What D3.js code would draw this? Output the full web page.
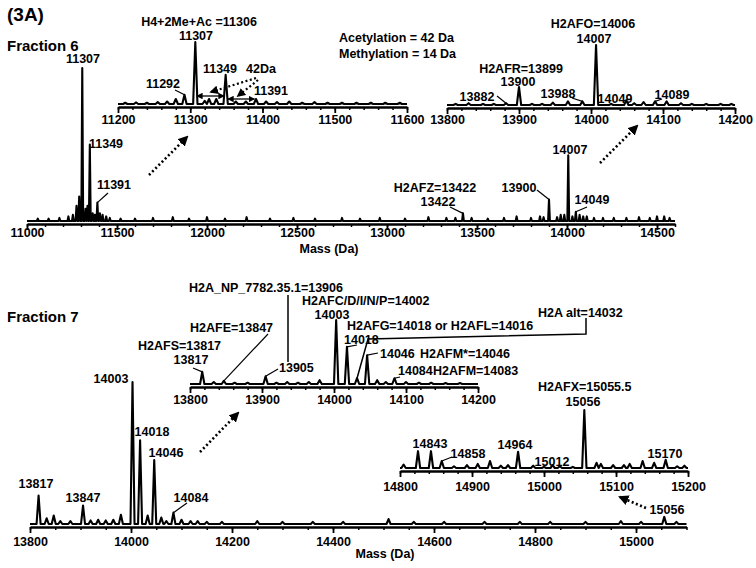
<!DOCTYPE html>
<html>
<head>
<meta charset="utf-8">
<script src="https://cdn.jsdelivr.net/npm/d3@7"></script>
<style>
  body { margin: 0; background: #fff; }
  svg text { font-family: "Liberation Sans", Arial, sans-serif; font-weight: bold; fill: #000; }
</style>
</head>
<body>
<svg id="fig" width="756" height="568"></svg>
<script>
// ---------- peak lists: [mass (Da), relative intensity %] ----------
const f6Main = [[11060,1.5],[11120,1.5],[11180,2],[11230,3],[11255,4],[11275,10],[11290,16],[11307,100],[11325,8],[11336,10],
  [11349,50],[11365,5],[11377,4],[11391,12],[11405,5],[11420,4],[11440,3],[11460,2],[11520,1.5],[11600,1.5],[11700,2],
  [11810,2.5],[11900,1.5],[12000,2.5],[12100,1.5],[12220,2.5],[12350,1.5],[12480,2],[12600,1.5],[12750,2],[12850,1.5],
  [12960,2],[13100,1.5],[13230,2.5],[13330,2],[13380,2],[13422,5],[13470,2],[13560,1.5],[13650,2],[13720,3],[13800,2],
  [13850,3],[13870,2.5],[13900,14],[13945,2.5],[13965,4],[13985,4],[14007,43],[14030,3],[14049,6],[14070,4],[14090,3],
  [14110,3],[14150,2],[14200,2],[14260,2],[14330,2],[14400,2.5],[14460,2],[14500,3],[14540,3],[14570,2]];
const f6InsetA = [[11210,2],[11225,2.5],[11240,2],[11255,3],[11268,4],[11280,8],[11292,15],[11307,100],[11320,5],[11326,8],
  [11336,8],[11349,47],[11363,4],[11377,4],[11391,8],[11405,4],[11420,3],[11437,4],[11455,2],[11472,3],[11490,2],[11510,2],
  [11530,2],[11550,2],[11570,2],[11590,2]];
const f6InsetB = [[13812,2],[13830,3],[13850,2],[13865,2],[13882,3],[13900,30],[13918,2],[13932,2],[13947,4],[13968,6],
  [13988,6],[14007,100],[14028,2],[14049,8],[14060,3],[14073,5],[14089,6],[14105,6],[14125,3],[14140,2],[14160,2],[14180,2],[14195,2]];
const f7Main = [[13817,20],[13833,4],[13847,6],[13860,2],[13880,2],[13905,13],[13920,2.5],[13935,3],[13950,2.5],[13965,3],
  [13980,6.5],[14003,100],[14018,59],[14033,6],[14046,45],[14060,4.5],[14070,2],[14084,8],[14100,3],[14118,2],[14132,2],
  [14150,1.5],[14180,1.5],[14250,2],[14300,1.5],[14360,1.5],[14420,1.5],[14510,3.5],[14560,1.5],[14620,1.5],[14700,1.5],
  [14770,1.5],[14830,1.5],[14900,1.5],[14970,2],[15010,1.5],[15056,5],[15080,1.5]];
const f7InsetA = [[13817,19],[13833,3],[13847,5],[13862,2],[13880,2],[13905,12],[13920,2],[13935,3],[13950,2],[13965,3],
  [13980,6],[14003,100],[14018,58],[14032,9],[14046,45],[14060,6],[14072,3],[14084,9],[14100,3],[14118,2],[14135,2],[14155,1.5],[14175,1.5]];
const f7InsetB = [[14805,6],[14825,29],[14843,29],[14858,12],[14875,3],[14893,5],[14908,7],[14925,12],[14940,4],[14950,5],
  [14964,28],[14985,4],[15000,2],[15012,5],[15022,3],[15040,2],[15056,100],[15073,9],[15079,7],[15096,5],[15111,5],
  [15119,7],[15137,12],[15153,9],[15169,14],[15185,3],[15195,4]];

// tick labels
const f6MainTicks = [11000, 11500, 12000, 12500, 13000, 13500, 14000, 14500];
const f6InsetATicks = [11200, 11300, 11400, 11500, 11600];
const f6InsetBTicks = [13800, 13900, 14000, 14100, 14200];
const f7MainTicks = [13800, 14000, 14200, 14400, 14600, 14800, 15000];
const f7InsetATicks = [13800, 13900, 14000, 14100, 14200];
const f7InsetBTicks = [14800, 14900, 15000, 15100, 15200];

const svg = d3.select("#fig");

// arrow heads
const defs = svg.append("defs");
defs.append("marker").attr("id", "head")
  .attr("viewBox", "0 0 10 10").attr("refX", 8).attr("refY", 5)
  .attr("markerWidth", 4).attr("markerHeight", 4)
  .attr("orient", "auto-start-reverse")
  .append("path").attr("d", "M0,0L10,5L0,10z").attr("fill", "#000");
defs.append("marker").attr("id", "headSmall")
  .attr("viewBox", "0 0 10 10").attr("refX", 9).attr("refY", 5)
  .attr("markerWidth", 5).attr("markerHeight", 5)
  .attr("orient", "auto-start-reverse")
  .append("path").attr("d", "M0,0L10,5L0,10z").attr("fill", "#000");

// panel layout (pixel boxes), data comes from the arrays above
const panels = {
  f6Main:   {data: f6Main,   dom: [11000, 14600], xr: [27, 675],    axisY: 224, top: 68,  w: 5, ticks: f6MainTicks,   minor: 100, lab: 237},
  f6InsetA: {data: f6InsetA, dom: [11200, 11600], xr: [118, 407],   axisY: 107, top: 42,  w: 3, ticks: f6InsetATicks, minor: 20,  lab: 124},
  f6InsetB: {data: f6InsetB, dom: [13800, 14200], xr: [447, 735],   axisY: 108, top: 45,  w: 3, ticks: f6InsetBTicks, minor: 20,  lab: 124},
  f7Main:   {data: f7Main,   dom: [13800, 15100], xr: [30, 686.5],  axisY: 527, top: 382, w: 4, ticks: f7MainTicks,   minor: 50,  lab: 546},
  f7InsetA: {data: f7InsetA, dom: [13800, 14200], xr: [190, 478],   axisY: 387, top: 320, w: 3, ticks: f7InsetATicks, minor: 20,  lab: 404},
  f7InsetB: {data: f7InsetB, dom: [14800, 15200], xr: [400, 688],   axisY: 471, top: 410, w: 3, ticks: f7InsetBTicks, minor: 20,  lab: 491}
};

Object.values(panels).forEach(p => {
  p.x = d3.scaleLinear().domain(p.dom).range(p.xr);
  p.y = d3.scaleLinear().domain([0, 100]).range([p.axisY - 3, p.top]);

  // spectrum trace: baseline with a narrow spike per peak
  const pts = [[p.dom[0], 0]];
  p.data.slice().sort((a, b) => a[0] - b[0]).forEach(([m, h]) => {
    pts.push([m - p.w, 0], [m, h], [m + p.w, 0]);
  });
  pts.push([p.dom[1], 0]);
  svg.append("path")
    .attr("d", d3.line().x(d => p.x(d[0])).y(d => p.y(d[1]))(pts))
    .attr("fill", "none").attr("stroke", "#000")
    .attr("stroke-width", 2.1).attr("stroke-linejoin", "round");

  // minor ticks
  svg.append("g").attr("transform", `translate(0,${p.axisY})`)
    .call(d3.axisBottom(p.x).tickValues(d3.range(p.dom[0], p.dom[1] + 1, p.minor)).tickSize(3).tickSizeOuter(0).tickFormat(""))
    .call(g => g.select(".domain").remove())
    .call(g => g.selectAll("line").attr("stroke-width", 1.5));

  // major ticks + labels + axis line
  svg.append("g").attr("transform", `translate(0,${p.axisY})`)
    .call(d3.axisBottom(p.x).tickValues(p.ticks).tickSize(6).tickSizeOuter(0).tickFormat(d3.format("d")))
    .call(g => g.select(".domain").attr("stroke-width", 2.6))
    .call(g => g.selectAll("line").attr("stroke-width", 1.8))
    .call(g => g.selectAll("text").attr("y", p.lab - p.axisY).attr("dy", 0)
      .style("font-size", "12.5px").style("font-family", "'Liberation Sans', Arial, sans-serif").style("font-weight", "bold"));
});

// height of a listed peak
function peakTop(key, mass) {
  const p = panels[key];
  const pk = p.data.find(d => d[0] === mass);
  return [p.x(mass), p.y(pk ? pk[1] : 0)];
}

// ---------- labels ----------
const labels = [
  ["(3A)", 7, 21, "start", 19],
  ["Fraction 6", 7, 51, "start", 15],
  ["Fraction 7", 7, 322, "start", 15],
  ["H4+2Me+Ac =11306", 199, 26, "middle"],
  ["11307", 196, 39.5, "middle"],
  ["11349", 220, 73, "middle"],
  ["42Da", 261, 73, "middle"],
  ["11292", 163, 88, "middle"],
  ["11391", 271, 95, "middle"],
  ["Acetylation = 42 Da", 339, 42, "start"],
  ["Methylation = 14 Da", 339, 58, "start"],
  ["H2AFO=14006", 593, 28, "middle"],
  ["14007", 594, 43, "middle"],
  ["H2AFR=13899", 521, 72.5, "middle"],
  ["13900", 518, 86, "middle"],
  ["13882", 477, 101, "middle"],
  ["13988", 558, 98, "middle"],
  ["14049", 615, 103, "middle"],
  ["14089", 672, 99, "middle"],
  ["11307", 83, 63, "middle"],
  ["11349", 89, 148, "start"],
  ["11391", 114, 189, "middle"],
  ["H2AFZ=13422", 435, 192, "middle"],
  ["13422", 438, 206, "middle"],
  ["13900", 519, 192, "middle"],
  ["14007", 570, 154, "middle"],
  ["14049", 592, 204, "middle"],
  ["Mass (Da)", 329, 253, "middle"],
  ["H2A_NP_7782.35.1=13906", 266, 291.5, "middle"],
  ["H2AFC/D/I/N/P=14002", 302, 305, "start"],
  ["14003", 332, 318.5, "middle"],
  ["H2AFE=13847", 190, 332, "start"],
  ["H2AFS=13817", 138, 350, "start"],
  ["13817", 191, 363.5, "middle"],
  ["13905", 279, 372, "start"],
  ["H2AFG=14018 or H2AFL=14016", 347, 330, "start"],
  ["14018", 344, 343.5, "start"],
  ["H2A alt=14032", 538, 317, "start"],
  ["14046", 380, 358, "start"],
  ["H2AFM*=14046", 420, 358, "start"],
  ["14084", 398, 375, "start"],
  ["H2AFM=14083", 433, 375, "start"],
  ["H2AFX=15055.5", 538, 391, "start"],
  ["15056", 583, 406, "middle"],
  ["14003", 111, 383, "middle"],
  ["14018", 152, 436, "middle"],
  ["14046", 166, 457, "middle"],
  ["13817", 36, 488, "middle"],
  ["13847", 83, 502, "middle"],
  ["14084", 191, 502, "middle"],
  ["14843", 430, 448, "middle"],
  ["14858", 468, 458, "middle"],
  ["14964", 515, 449, "middle"],
  ["15012", 552, 466, "middle"],
  ["15170", 665, 458, "middle"],
  ["15056", 667, 514, "middle"],
  ["Mass (Da)", 385, 558, "middle"]
];
svg.append("g").selectAll("text").data(labels).enter().append("text")
  .attr("x", d => d[1]).attr("y", d => d[2])
  .attr("text-anchor", d => d[3])
  .style("font-size", d => (d[4] || 12.5) + "px")
  .text(d => d[0]);

// ---------- leader lines from label to peak ----------
const leaders = [
  ["f6InsetA", 11292, [175, 90]],
  ["f6InsetB", 13882, [497, 96]],
  ["f6InsetB", 13988, [572, 98]],
  ["f6InsetB", 14089, [662, 99]],
  ["f6Main", 11391, [108, 193]],
  ["f6Main", 13422, [450, 207]],
  ["f6Main", 13900, [537, 190]],
  ["f6Main", 14049, [587, 207]],
  ["f7InsetA", 13817, [193, 368]],
  ["f7InsetA", 13847, [268, 334]],
  ["f7InsetA", 13905, [278, 369]],
  ["f7InsetA", 14018, [357, 345]],
  ["f7InsetA", 14046, [378, 353]],
  ["f7InsetA", 14084, [400, 377]],
  ["f7InsetB", 14858, [452, 457]],
  ["f7Main", 14084, [187, 503]]
];
leaders.forEach(([key, mass, from]) => {
  const to = peakTop(key, mass);
  svg.append("line").attr("x1", from[0]).attr("y1", from[1]).attr("x2", to[0]).attr("y2", to[1])
    .attr("stroke", "#000").attr("stroke-width", 1.2);
});
// H2A_NP label drop line and H2A alt bracket
svg.append("line").attr("x1", 288).attr("y1", 295).attr("x2", 288).attr("y2", 362)
  .attr("stroke", "#000").attr("stroke-width", 1.5);
const alt = peakTop("f7InsetA", 14032);
svg.append("path").attr("d", d3.line()([[586, 318], [586, 334], [368, 339], alt]))
  .attr("fill", "none").attr("stroke", "#000").attr("stroke-width", 1.5);

// ---------- dotted zoom arrows ----------
const zoomArrows = [
  [[149, 175], [187, 137]],
  [[600, 163], [637, 126]],
  [[200, 452], [238, 413]],
  [[646, 508], [620, 497]],
  [[256, 78], [211, 92]],
  [[258, 80], [238, 96]]
];
zoomArrows.forEach(([a, b], i) => {
  svg.append("line").attr("x1", a[0]).attr("y1", a[1]).attr("x2", b[0]).attr("y2", b[1])
    .attr("stroke", "#000").attr("stroke-width", i < 4 ? 2.6 : 2.2)
    .attr("stroke-dasharray", "2,2.5")
    .attr("marker-end", "url(#head)");
});

// 42 Da double arrows between peaks in the inset
const pA = panels.f6InsetA;
[[11309, 11347, 96], [11352, 11389, 99]].forEach(([m1, m2, yy]) => {
  svg.append("line").attr("x1", pA.x(m1)).attr("x2", pA.x(m2)).attr("y1", yy).attr("y2", yy)
    .attr("stroke", "#000").attr("stroke-width", 1.3)
    .attr("marker-start", "url(#headSmall)").attr("marker-end", "url(#headSmall)");
});
</script>
</body>
</html>
